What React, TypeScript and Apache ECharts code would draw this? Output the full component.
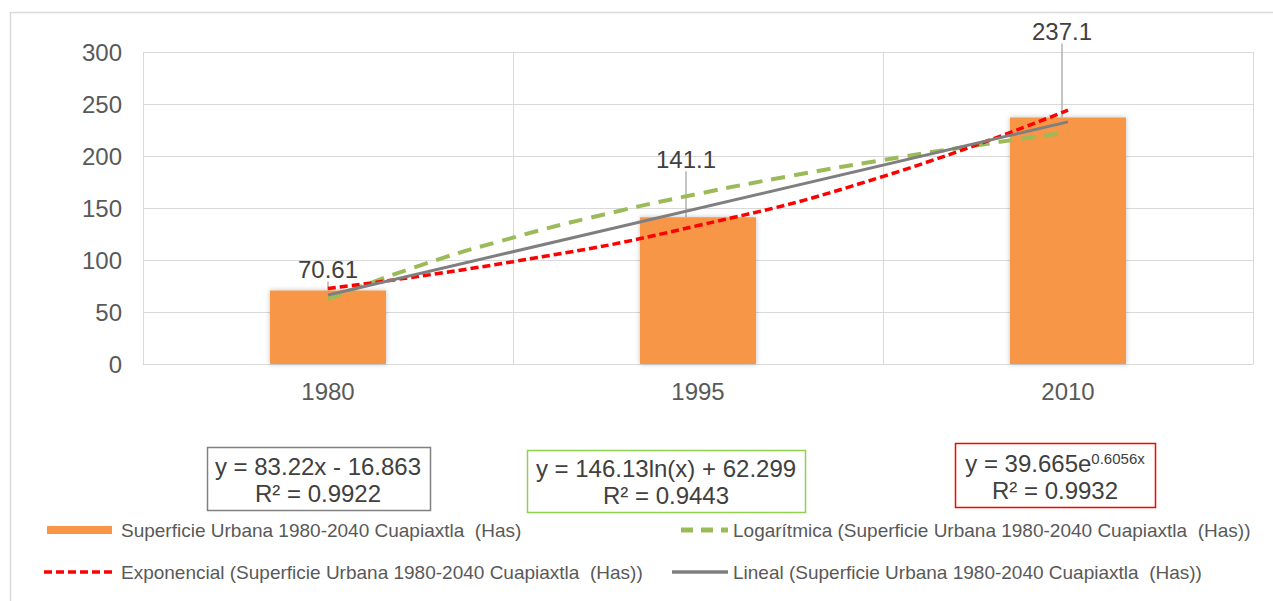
import React, { useEffect, useRef } from "react";
import * as echarts from "echarts";

const categories = ["1980", "1995", "2010"];
const barValues = [70.61, 141.1, 237.1];
const barName = "Superficie Urbana 1980-2040 Cuapiaxtla  (Has)";
const yTicks = [0, 50, 100, 150, 200, 250, 300];

// trendlines (x = category position 1..3)
const linearPts = [[1, 66.4], [3, 232.8]];
const logPts = [[1, 62.3], [1.25, 94.9], [1.5, 121.5], [1.75, 144.1], [2, 163.6], [2.25, 180.8], [2.5, 196.2], [2.75, 210.1], [3, 222.8]];
const expPts = [[1, 72.6], [1.5, 98.4], [2, 133.1], [2.5, 180.3], [3, 244.1]];

const eqLinear = ["y = 83.22x - 16.863", "R² = 0.9922"];
const eqLog = ["y = 146.13ln(x) + 62.299", "R² = 0.9443"];
const eqExpBase = "y = 39.665e";
const eqExpSup = "0.6056x";
const eqExpR2 = "R² = 0.9932";

const legendNames = [
  barName,
  "Logarítmica (Superficie Urbana 1980-2040 Cuapiaxtla  (Has))",
  "Exponencial (Superficie Urbana 1980-2040 Cuapiaxtla  (Has))",
  "Lineal (Superficie Urbana 1980-2040 Cuapiaxtla  (Has))",
];

const FONT = "Liberation Sans, Arial, sans-serif";
const TXT = "#595959";
const TXT2 = "#404040";
const ORANGE = "#F79646";
const GREEN = "#9BBB59";
const RED = "#FF0000";
const GRAY = "#7F7F7F";
const LEG = 19;

export default function App() {
  const ref = useRef<HTMLDivElement>(null);
  useEffect(() => {
    document.body.style.margin = "0";
    const chart = echarts.init(ref.current!, null, { renderer: "svg" });
    const labelShift = [
      { dx: 0, dy: -5 },
      { dx: -12, dy: -42 },
      { dx: -6, dy: -70 },
    ];
    const eqText = (x: number, y: number, lines: string[]) => ({
      type: "text",
      x,
      y,
      style: {
        text: lines.join("\n"),
        font: `24px ${FONT}`,
        fill: TXT2,
        align: "center",
        verticalAlign: "middle",
        lineHeight: 27,
      },
    });
    const legText = (x: number, y: number, t: string) => ({
      type: "text",
      x,
      y,
      style: { text: t, font: `${LEG}px ${FONT}`, fill: TXT, verticalAlign: "middle" },
    });
    const option: any = {
      animation: false,
      backgroundColor: "#fff",
      textStyle: { fontFamily: FONT },
      grid: { left: 143, right: 20, top: 52, bottom: 237, containLabel: false },
      xAxis: [
        {
          type: "category",
          data: categories,
          boundaryGap: true,
          axisLine: { show: true, lineStyle: { color: "#D9D9D9", width: 1 } },
          axisTick: { show: false },
          splitLine: { show: true, lineStyle: { color: "#D9D9D9", width: 1 } },
          axisLabel: { color: TXT, fontSize: 24, margin: 15, fontFamily: FONT },
        },
        { type: "value", min: 0.5, max: 3.5, show: false },
      ],
      yAxis: {
        type: "value",
        min: yTicks[0],
        max: yTicks[yTicks.length - 1],
        interval: 50,
        axisLine: { show: false },
        axisTick: { show: false },
        splitLine: { lineStyle: { color: "#D9D9D9", width: 1 } },
        axisLabel: { color: TXT, fontSize: 24, margin: 21, fontFamily: FONT },
      },
      series: [
        {
          name: barName,
          type: "bar",
          data: barValues,
          barWidth: 116,
          itemStyle: {
            color: ORANGE,
            shadowColor: "rgba(0,0,0,0.25)",
            shadowBlur: 5,
          },
          label: {
            show: true,
            position: "top",
            color: TXT2,
            fontSize: 24,
            fontFamily: FONT,
            distance: 4,
          },
          labelLine: { show: true, lineStyle: { color: "#A6A6A6", width: 1.3 } },
          labelLayout: (p: any) => labelShift[p.dataIndex],
          z: 1,
        },
        {
          name: legendNames[1],
          type: "line",
          xAxisIndex: 1,
          data: logPts,
          smooth: true,
          symbol: "none",
          lineStyle: { color: GREEN, width: 4, type: [14, 9] },
          z: 3,
        },
        {
          name: legendNames[2],
          type: "line",
          xAxisIndex: 1,
          data: expPts,
          smooth: true,
          symbol: "none",
          lineStyle: { color: RED, width: 3.5, type: [8, 4] },
          z: 4,
        },
        {
          name: legendNames[3],
          type: "line",
          xAxisIndex: 1,
          data: linearPts,
          symbol: "none",
          lineStyle: { color: GRAY, width: 3 },
          z: 5,
        },
      ],
      graphic: [
        {
          type: "rect",
          shape: { x: 10.5, y: 12.5, width: 1275, height: 600 },
          style: { fill: "none", stroke: "#D9D9D9", lineWidth: 1.5 },
          silent: true,
        },
        // equation boxes
        {
          type: "rect",
          shape: { x: 207.5, y: 447.5, width: 223, height: 63 },
          style: { fill: "#fff", stroke: "#808080", lineWidth: 1.5 },
        },
        eqText(318, 480, eqLinear),
        {
          type: "rect",
          shape: { x: 527.5, y: 450.5, width: 278, height: 62 },
          style: { fill: "#fff", stroke: "#92D050", lineWidth: 1.5 },
        },
        eqText(666, 482, eqLog),
        {
          type: "rect",
          shape: { x: 955.5, y: 443.5, width: 200, height: 64 },
          style: { fill: "#fff", stroke: RED, lineWidth: 1.5 },
        },
        {
          type: "text",
          x: 1055,
          y: 463,
          style: {
            rich: {
              a: { fontSize: 24, fontFamily: FONT, fill: TXT2 },
              s: { fontSize: 15, fontFamily: FONT, fill: TXT2, verticalAlign: "top", padding: [0, 0, 10, 0] },
            },
            text: `{a|${eqExpBase}}{s|${eqExpSup}}`,
            align: "center",
            verticalAlign: "middle",
          },
        },
        {
          type: "text",
          x: 1055,
          y: 490,
          style: { text: eqExpR2, font: `24px ${FONT}`, fill: TXT2, align: "center", verticalAlign: "middle" },
        },
        // legend
        {
          type: "line",
          shape: { x1: 47, y1: 530, x2: 112, y2: 530 },
          style: { stroke: ORANGE, lineWidth: 8 },
        },
        legText(121, 530, legendNames[0]),
        {
          type: "line",
          shape: { x1: 681, y1: 530, x2: 728, y2: 530 },
          style: { stroke: GREEN, lineWidth: 5, lineDash: [12, 8] },
        },
        legText(733, 530, legendNames[1]),
        {
          type: "line",
          shape: { x1: 44, y1: 572, x2: 113, y2: 572 },
          style: { stroke: RED, lineWidth: 3.5, lineDash: [8, 4] },
        },
        legText(121, 572, legendNames[2]),
        {
          type: "line",
          shape: { x1: 672, y1: 572, x2: 728, y2: 572 },
          style: { stroke: GRAY, lineWidth: 3.5 },
        },
        legText(733, 572, legendNames[3]),
      ],
    };
    chart.setOption(option);
    return () => chart.dispose();
  }, []);
  return <div ref={ref} style={{ width: 1273, height: 601 }} />;
}
